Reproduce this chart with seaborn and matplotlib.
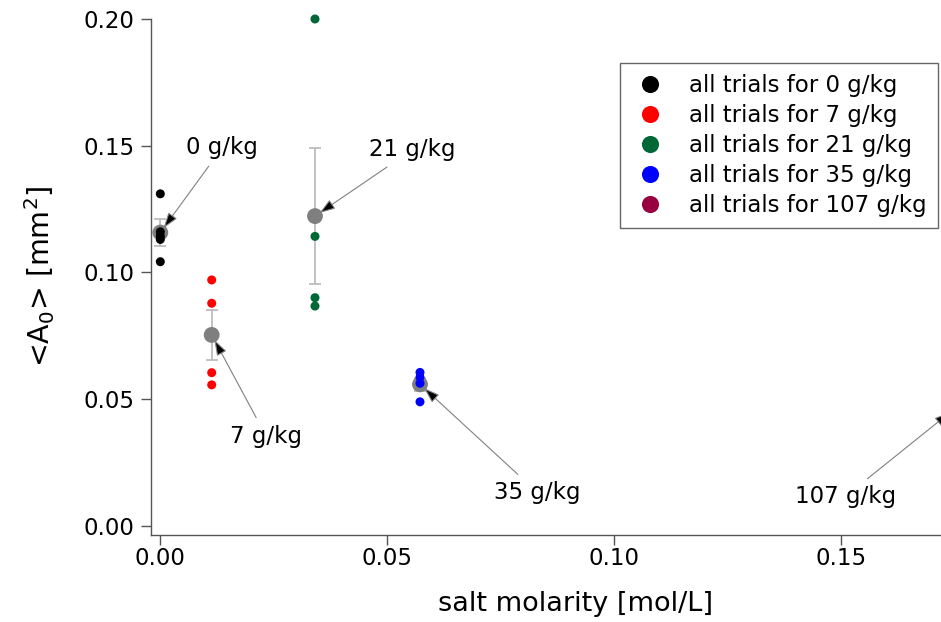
import numpy as np
import pandas as pd
import matplotlib
matplotlib.use("Agg")
import matplotlib.pyplot as plt
import seaborn as sns

# Salt concentrations (g/kg) and their molarities (mol/L)
salt_gkg = ["0", "7", "21", "35", "107"]
molarity = [0.0, 0.01132, 0.03407, 0.0572, 0.1749]

# Individual trial values of <A0> [mm^2]
trials_0 = [0.1310, 0.1160, 0.1143, 0.1130, 0.1042]
trials_7 = [0.0970, 0.0878, 0.0604, 0.0556]
trials_21 = [0.2000, 0.1142, 0.0900, 0.0867]
trials_35 = [0.0605, 0.0586, 0.0562, 0.0489]
trials_107 = [0.0510, 0.0470, 0.0445, 0.0420]

# Mean and error of each concentration
mean_a0 = [0.1157, 0.0753, 0.1222, 0.0558, 0.0461]
err_a0 = [0.0054, 0.0100, 0.0267, 0.0025, 0.0030]

colors = ["#000000", "#ff0000", "#006837", "#0000ff", "#990040"]

all_trials = [trials_0, trials_7, trials_21, trials_35, trials_107]
rows = []
for g, m, vals in zip(salt_gkg, molarity, all_trials):
    for v in vals:
        rows.append({"molarity": m, "A0": v, "group": f"all trials for {g} g/kg"})
df = pd.DataFrame(rows)
means = pd.DataFrame({"molarity": molarity, "A0": mean_a0, "err": err_a0})

sns.set_style("ticks")
plt.rcParams["font.family"] = ["DejaVu Sans"]
plt.rcParams["text.color"] = "black"
plt.rcParams["axes.labelcolor"] = "black"
plt.rcParams["axes.edgecolor"] = "#555555"
plt.rcParams["xtick.color"] = "#555555"
plt.rcParams["ytick.color"] = "#555555"
plt.rcParams["xtick.labelcolor"] = "black"
plt.rcParams["ytick.labelcolor"] = "black"

fig = plt.figure(figsize=(9.41, 6.22), dpi=100)
ax = fig.add_axes([151 / 941, 1 - 534.7 / 622, (941 - 151) / 941, (534.7 - 19) / 622])

# error bars and means behind the individual trials
ax.errorbar(means["molarity"], means["A0"], yerr=means["err"], fmt="none",
            ecolor="#b8b8b8", elinewidth=1.2, capsize=4, capthick=1.2, zorder=1)
sns.scatterplot(data=means, x="molarity", y="A0", color="#7f7f7f", s=130,
                edgecolor="none", ax=ax, zorder=2, legend=False)
sns.scatterplot(data=df, x="molarity", y="A0", hue="group",
                palette=colors, s=42, edgecolor="none", ax=ax, zorder=3,
                clip_on=False)

ax.set_xlim(-0.00205, 0.17196)
ax.set_ylim(-0.00355, 0.2)
ax.set_xticks([0.0, 0.05, 0.10, 0.15])
ax.set_yticks([0.0, 0.05, 0.10, 0.15, 0.20])
ax.xaxis.set_major_formatter(matplotlib.ticker.FormatStrFormatter("%.2f"))
ax.yaxis.set_major_formatter(matplotlib.ticker.FormatStrFormatter("%.2f"))
ax.tick_params(axis="both", direction="out", length=7, width=1, labelsize=16.5, pad=5)
ax.tick_params(axis="x", pad=2)
for s in ["top", "right"]:
    ax.spines[s].set_visible(False)
for s in ["left", "bottom"]:
    ax.spines[s].set_linewidth(1)

ax.set_xlabel("salt molarity [mol/L]", fontsize=19.5, labelpad=15, x=0.538)
ax.set_ylabel(r"<A$_0$> [mm$^2$]", fontsize=20.5, labelpad=19)

# labels pointing to each mean
label_pos = [(0.01359, 0.1491), (0.02330, 0.0354), (0.05544, 0.1483),
             (0.08297, 0.0133), (0.15100, 0.0117)]
for g, m, mu, (tx, ty) in zip(salt_gkg, molarity, mean_a0, label_pos):
    ax.annotate(f"{g} g/kg", xy=(m, mu), xytext=(tx, ty), xycoords="data",
                textcoords="data", ha="center", va="center", fontsize=16.5,
                annotation_clip=False,
                arrowprops=dict(arrowstyle="-|>,head_length=0.95,head_width=0.32",
                                mutation_scale=10, fc="black", ec="#808080",
                                lw=0.8, shrinkA=3, shrinkB=4))

handles, labels = ax.get_legend_handles_labels()
leg = ax.legend(handles, labels, loc="upper right",
                bbox_to_anchor=(938 / 941, 1 - 63 / 622), bbox_transform=fig.transFigure,
                borderaxespad=0, fontsize=16.5, markerscale=1.9, frameon=True,
                fancybox=False, framealpha=1, edgecolor="#666666", labelspacing=0.3,
                handletextpad=0.9, borderpad=0.5, handlelength=1.6)
leg.get_frame().set_linewidth(1)

fig.savefig("out.png", dpi=100)
